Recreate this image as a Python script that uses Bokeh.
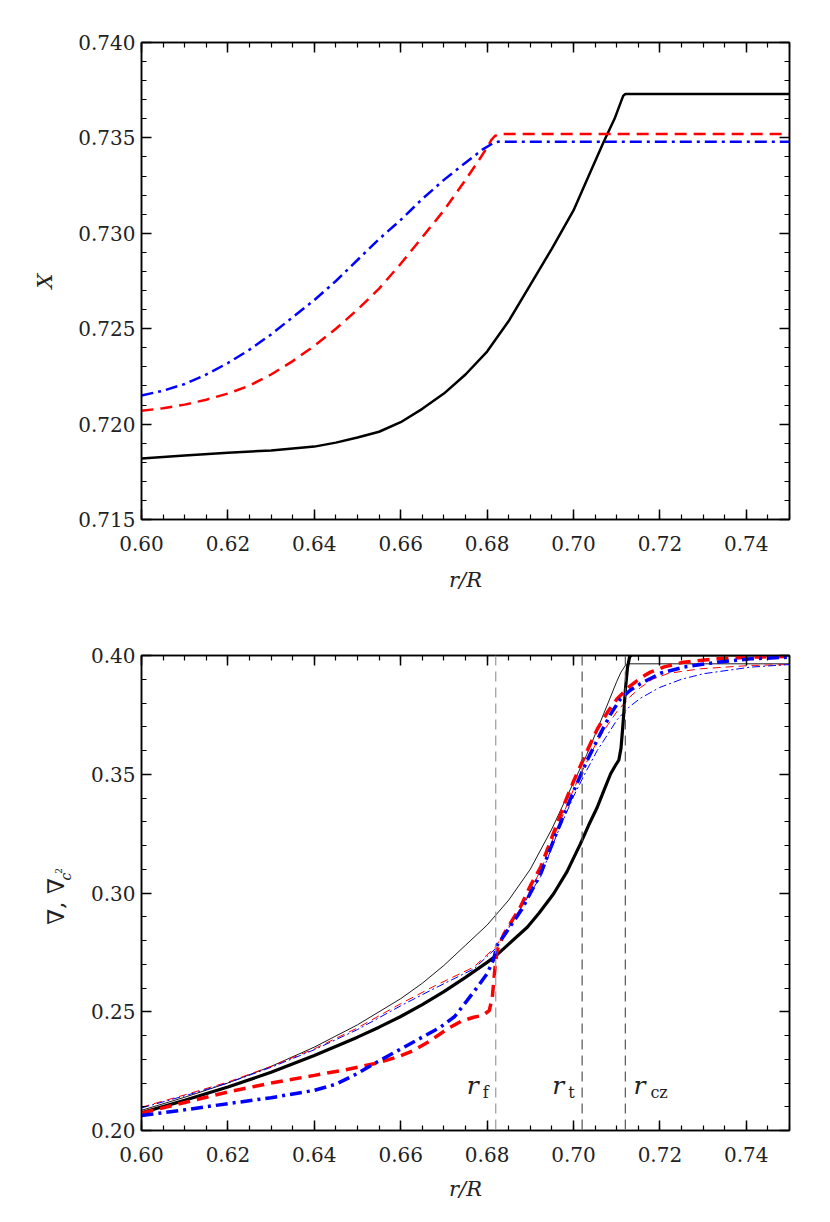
import math
from bokeh.plotting import figure
from bokeh.layouts import column, row
from bokeh.models import (LinearAxis, SingleIntervalTicker, PrintfTickFormatter,
                          CustomJSTickFormatter, Span, Range1d)
from bokeh.core.properties import value
from bokeh.embed import file_html
from bokeh.resources import INLINE

# ---------------- data: top panel (hydrogen abundance X) ----------------
r_x_black = [0.600, 0.610, 0.620, 0.630, 0.640, 0.645, 0.650, 0.655, 0.660, 0.665, 0.670,
             0.675, 0.680, 0.685, 0.690, 0.695, 0.700, 0.7035, 0.707, 0.7095, 0.711,
             0.7115, 0.712, 0.750]
x_black = [0.7182, 0.71835, 0.7185, 0.71862, 0.71882, 0.71903, 0.7193, 0.7196, 0.7201,
           0.7208, 0.7216, 0.7226, 0.7238, 0.7254, 0.7273, 0.7292, 0.7312, 0.7330, 0.7348,
           0.7360, 0.7369, 0.7372, 0.7373, 0.7373]

r_x_red = [0.600, 0.605, 0.610, 0.615, 0.620, 0.625, 0.630, 0.635, 0.640, 0.645, 0.650,
           0.655, 0.660, 0.665, 0.670, 0.675, 0.678, 0.680, 0.681, 0.6818, 0.6828, 0.750]
x_red = [0.7207, 0.72083, 0.72102, 0.72128, 0.7216, 0.72202, 0.7226, 0.7233, 0.7241, 0.7250,
         0.7260, 0.7271, 0.7284, 0.7298, 0.7312, 0.7328, 0.7338, 0.7345, 0.7349, 0.7351,
         0.7352, 0.7352]

r_x_blue = [0.600, 0.605, 0.610, 0.615, 0.620, 0.625, 0.630, 0.635, 0.640, 0.645, 0.650,
            0.655, 0.660, 0.665, 0.670, 0.675, 0.679, 0.6812, 0.6825, 0.750]
x_blue = [0.7215, 0.72175, 0.7221, 0.7226, 0.7232, 0.7239, 0.7247, 0.7256, 0.7265, 0.7275,
          0.7286, 0.7297, 0.7307, 0.7318, 0.7328, 0.7337, 0.7344, 0.7347, 0.7348, 0.7348]

# ---------------- data: bottom panel (gradients) ----------------
r_nab_black = [0.600, 0.610, 0.620, 0.630, 0.640, 0.650, 0.655, 0.660, 0.665, 0.670, 0.675,
               0.680, 0.682, 0.685, 0.6893, 0.692, 0.6954, 0.6985, 0.7016, 0.7035, 0.7055,
               0.707, 0.7086, 0.7098, 0.7105, 0.7110, 0.7115, 0.7120, 0.7125, 0.7130,
               0.7135, 0.750]
nab_black = [0.2075, 0.2127, 0.2183, 0.2245, 0.2316, 0.2393, 0.2435, 0.2480, 0.2530, 0.2585,
             0.2645, 0.2708, 0.2735, 0.2785, 0.2856, 0.2915, 0.2997, 0.3090, 0.3207, 0.3285,
             0.3361, 0.3430, 0.3502, 0.3540, 0.3560, 0.3610, 0.3720, 0.3853, 0.3950, 0.3995,
             0.4003, 0.4003]

r_c2_black = [0.600, 0.610, 0.620, 0.630, 0.640, 0.650, 0.660, 0.665, 0.670, 0.675, 0.680,
              0.685, 0.690, 0.695, 0.700, 0.703, 0.706, 0.708, 0.710, 0.711, 0.712, 0.7127,
              0.750]
c2_black = [0.2085, 0.2140, 0.2200, 0.2270, 0.2351, 0.2445, 0.2555, 0.2620, 0.2695, 0.2780,
            0.2865, 0.2970, 0.3100, 0.3270, 0.3465, 0.3580, 0.3710, 0.3800, 0.3890, 0.3930,
            0.3958, 0.3965, 0.3965]

r_nab_red = [0.600, 0.610, 0.620, 0.630, 0.640, 0.647, 0.6538, 0.659, 0.663, 0.667, 0.6708,
             0.674, 0.6769, 0.679, 0.6805, 0.6812, 0.6818, 0.6823, 0.6839, 0.6877, 0.690,
             0.6924, 0.6945, 0.6962, 0.698, 0.7001, 0.7032, 0.7055, 0.708, 0.7101, 0.713,
             0.7155, 0.7178, 0.721, 0.7255, 0.7333, 0.741, 0.750]
nab_red = [0.2073, 0.2118, 0.2162, 0.2200, 0.2232, 0.2255, 0.2281, 0.2308, 0.2337, 0.2380,
           0.2428, 0.2460, 0.2477, 0.2485, 0.2505, 0.2560, 0.2680, 0.2758, 0.2828, 0.2941,
           0.3030, 0.3109, 0.3210, 0.3291, 0.3380, 0.3474, 0.3600, 0.3690, 0.3765, 0.3818,
           0.3870, 0.3905, 0.3930, 0.3952, 0.3972, 0.3986, 0.3993, 0.3996]

r_nab_blue = [0.600, 0.610, 0.620, 0.630, 0.640, 0.645, 0.650, 0.6538, 0.6615, 0.6692,
              0.6725, 0.6754, 0.678, 0.680, 0.6815, 0.6823, 0.6839, 0.688, 0.6924, 0.696,
              0.7001, 0.7032, 0.7062, 0.7085, 0.7109, 0.7132, 0.7155, 0.7201, 0.7255,
              0.7333, 0.741, 0.750]
nab_blue = [0.2063, 0.2087, 0.2113, 0.2138, 0.2169, 0.2195, 0.2240, 0.2281, 0.2358, 0.2435,
            0.2480, 0.2548, 0.2610, 0.2660, 0.2720, 0.2780, 0.2820, 0.2930, 0.3081, 0.3250,
            0.3432, 0.3560, 0.3670, 0.3750, 0.3818, 0.3855, 0.3881, 0.3925, 0.3951, 0.3972,
            0.3986, 0.3993]

r_c2_red = [0.600, 0.610, 0.620, 0.630, 0.640, 0.650, 0.660, 0.668, 0.6769, 0.6819, 0.6839,
            0.6877, 0.6924, 0.6962, 0.7001, 0.703, 0.7055, 0.708, 0.7101, 0.713, 0.7155,
            0.7183, 0.722, 0.7294, 0.741, 0.750]
c2_red = [0.2098, 0.2150, 0.2204, 0.2270, 0.2344, 0.2432, 0.2534, 0.2610, 0.2688, 0.2772,
          0.2830, 0.2935, 0.3095, 0.3270, 0.3440, 0.3550, 0.3640, 0.3710, 0.3765, 0.3825,
          0.3865, 0.3900, 0.3925, 0.3944, 0.3958, 0.3962]

r_c2_blue = [0.600, 0.610, 0.620, 0.630, 0.640, 0.650, 0.660, 0.668, 0.6769, 0.6819, 0.6839,
             0.6924, 0.696, 0.7001, 0.703, 0.7055, 0.708, 0.7101, 0.713, 0.7155, 0.7199,
             0.725, 0.730, 0.741, 0.750]
c2_blue = [0.2095, 0.2146, 0.2200, 0.2266, 0.2340, 0.2425, 0.2525, 0.2600, 0.2680, 0.2765,
           0.2820, 0.3070, 0.3240, 0.3410, 0.3515, 0.3600, 0.3670, 0.3730, 0.3785, 0.3820,
           0.3865, 0.3900, 0.3923, 0.3951, 0.3962]

# characteristic radii
r_marks = [0.682, 0.702, 0.712]
r_mark_names = ["f", "t", "cz"]

FONT = "DejaVu Serif"
TXT = "#222222"


def style_axes(p, xint, yint, yminor, yfmt):
    for ax in list(p.xaxis) + list(p.yaxis):
        ax.axis_line_width = 1.5
        ax.axis_line_color = "black"
        ax.major_tick_in = 10
        ax.major_tick_out = 0
        ax.minor_tick_in = 5
        ax.minor_tick_out = 0
        ax.major_tick_line_width = 1.5
        ax.minor_tick_line_width = 1.2
        ax.major_label_text_font = FONT
        ax.major_label_text_font_size = "20px"
        ax.major_label_text_color = TXT
        ax.axis_label_text_font = FONT
        ax.axis_label_text_font_style = "italic"
        ax.axis_label_text_font_size = "21px"
        ax.axis_label_text_color = TXT
    p.xaxis.ticker = SingleIntervalTicker(interval=xint, num_minor_ticks=4)
    p.yaxis.ticker = SingleIntervalTicker(interval=yint, num_minor_ticks=yminor)
    p.xaxis.formatter = PrintfTickFormatter(format="%.2f")
    p.yaxis.formatter = PrintfTickFormatter(format=yfmt)
    p.xaxis.major_label_standoff = 16
    p.yaxis.major_label_standoff = 6
    p.xgrid.visible = False
    p.ygrid.visible = False
    p.outline_line_color = "black"
    p.outline_line_width = 1.5


def add_mirrors(p, xint, yint, yminor):
    blank = CustomJSTickFormatter(code="return ''")
    top = LinearAxis(ticker=SingleIntervalTicker(interval=xint, num_minor_ticks=4),
                     formatter=blank, major_label_standoff=0)
    right = LinearAxis(ticker=SingleIntervalTicker(interval=yint, num_minor_ticks=yminor),
                       formatter=blank, major_label_standoff=0)
    for ax in (top, right):
        ax.axis_line_width = 1.5
        ax.major_tick_in = 10
        ax.major_tick_out = 0
        ax.minor_tick_in = 5
        ax.minor_tick_out = 0
        ax.major_tick_line_width = 1.5
        ax.minor_tick_line_width = 1.2
    p.add_layout(top, "above")
    p.add_layout(right, "right")


# ---------------- top panel ----------------
p1 = figure(output_backend="svg", toolbar_location=None,
            frame_width=648, frame_height=477,
            min_border_left=141, min_border_right=25, min_border_top=42, min_border_bottom=81,
            x_range=Range1d(0.60, 0.75), y_range=Range1d(0.715, 0.740),
            background_fill_color="white", border_fill_color="white")
p1.line(r_x_black, x_black, line_color="black", line_width=2.5)
p1.line(r_x_red, x_red, line_color="#ff0000", line_width=2.5, line_dash="12 7")
p1.line(r_x_blue, x_blue, line_color="#0000ff", line_width=2.5, line_dash="12 5 3 5")
p1.xaxis.axis_label = "r/R"
p1.yaxis.axis_label = "X"
style_axes(p1, 0.02, 0.005, 5, "%.3f")
p1.xaxis.axis_label_standoff = 14
p1.yaxis.axis_label_standoff = 18
add_mirrors(p1, 0.02, 0.005, 5)

# ---------------- bottom panel ----------------
LAB_W = 74
p2 = figure(output_backend="svg", toolbar_location=None,
            frame_width=648, frame_height=475,
            min_border_left=141 - LAB_W, min_border_right=25, min_border_top=55,
            min_border_bottom=84,
            x_range=Range1d(0.60, 0.75), y_range=Range1d(0.20, 0.40),
            background_fill_color="white", border_fill_color="white")

for i, rm in enumerate(r_marks):
    p2.add_layout(Span(location=rm, dimension="height",
                       line_color="#999999" if i == 0 else "#555555",
                       line_width=1.2, line_dash="10 6"))

p2.line(r_c2_black, c2_black, line_color="black", line_width=0.9)
p2.line(r_c2_red, c2_red, line_color="#ff0000", line_width=1.0, line_dash="8 5")
p2.line(r_c2_blue, c2_blue, line_color="#0000ff", line_width=1.0, line_dash="8 3 2 3")
p2.line(r_nab_black, nab_black, line_color="black", line_width=3.2)
p2.line(r_nab_red, nab_red, line_color="#ff0000", line_width=3.5, line_dash="12 7")
p2.line(r_nab_blue, nab_blue, line_color="#0000ff", line_width=3.5, line_dash="12 5 3 5")

p2.xaxis.axis_label = "r/R"
style_axes(p2, 0.02, 0.05, 5, "%.2f")
p2.xaxis.axis_label_standoff = 12
add_mirrors(p2, 0.02, 0.05, 5)

# labels r_f, r_t, r_cz
r_label_x = [0.6753, 0.6951, 0.7139]
sub_label_x = [0.6790, 0.6988, 0.7178]
p2.text(x=r_label_x, y=[0.2190] * 3, text=["r"] * 3, text_font=value(FONT),
        text_font_style="italic", text_font_size="25px", text_color=TXT,
        text_baseline="alphabetic", text_align="left")
p2.text(x=sub_label_x, y=[0.2160] * 3, text=r_mark_names, text_font=value(FONT),
        text_font_size="16px", text_color=TXT,
        text_baseline="alphabetic", text_align="left")

# ---------------- y-axis title of the bottom panel: "∇, ∇_{c²}" ----------------
H2 = 55 + 475 + 84
ylab = figure(output_backend="svg", toolbar_location=None,
              width=LAB_W, height=H2, min_border=0,
              x_range=Range1d(0, LAB_W), y_range=Range1d(0, H2),
              background_fill_color="white", border_fill_color="white",
              outline_line_color=None)
ylab.axis.visible = False
ylab.grid.visible = False
ylab.text(x=[55], y=[266], text=["∇, ∇"], angle=math.pi / 2, text_font=value(FONT),
          text_font_size="23px", text_color=TXT, text_align="left",
          text_baseline="alphabetic")
ylab.text(x=[65], y=[323], text=["c"], angle=math.pi / 2, text_font=value(FONT),
          text_font_style="italic", text_font_size="14px", text_color=TXT,
          text_align="left", text_baseline="alphabetic")
ylab.text(x=[58], y=[332], text=["2"], angle=math.pi / 2, text_font=value(FONT),
          text_font_size="9px", text_color=TXT, text_align="left",
          text_baseline="alphabetic")

layout = column(p1, row(ylab, p2, spacing=0), spacing=0)
open("out.html", "w").write(file_html(layout, INLINE))
